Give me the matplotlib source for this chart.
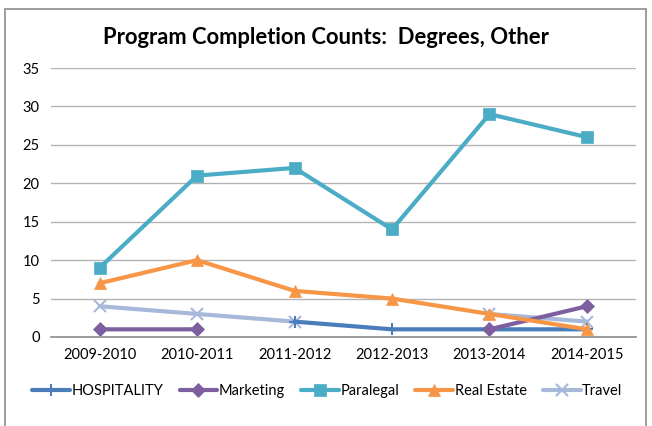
import matplotlib
matplotlib.use('Agg')
import matplotlib.pyplot as plt
from matplotlib.patches import Rectangle
import numpy as np

plt.rcParams['font.family'] = ['Lato', 'DejaVu Sans']

years = ['2009-2010', '2010-2011', '2011-2012', '2012-2013', '2013-2014', '2014-2015']
nan = np.nan

# 各系列数值（缺失用 nan）
hospitality = [nan, nan, 2, 1, 1, 1]
marketing = [1, 1, nan, nan, 1, 4]
paralegal = [9, 21, 22, 14, 29, 26]
real_estate = [7, 10, 6, 5, 3, 1]
travel = [4, 3, 2, nan, 3, 2]

series = [
    ('HOSPITALITY', hospitality, '#4A7EBB', '+', 9),
    ('Marketing', marketing, '#7D5FA0', 'D', 7),
    ('Paralegal', paralegal, '#4BACC6', 's', 8),
    ('Real Estate', real_estate, '#F79646', '^', 9),
    ('Travel', travel, '#A7B9DA', 'x', 8),
]

fig = plt.figure(figsize=(6.52, 4.26), dpi=100)
ax = fig.add_axes([0.078, 1 - 337 / 426, 0.897, 269 / 426])

x = np.arange(len(years))
# 先画 Travel 再画 Hospitality，保持与原图相近的遮挡顺序
order = [4, 0, 1, 2, 3]
handles = {}
for i in order:
    name, vals, col, mk, ms = series[i]
    h, = ax.plot(x, vals, color=col, linewidth=3, marker=mk, markersize=ms,
                 markeredgewidth=1.5 if mk in '+x' else 0.5, markeredgecolor=col,
                 label=name, solid_capstyle='round')
    handles[name] = h

ax.set_xlim(-0.5, len(years) - 0.5)
ax.set_ylim(0, 35)
ax.set_yticks(range(0, 36, 5))
ax.set_xticks(x)
ax.set_xticklabels(years)
ax.tick_params(axis='both', length=0, labelsize=10.5, pad=8)
ax.grid(axis='y', color='#B3B3B3', linewidth=1)
ax.set_axisbelow(True)
for s in ['top', 'right', 'left']:
    ax.spines[s].set_visible(False)
ax.spines['bottom'].set_color('#8C8C8C')
ax.spines['bottom'].set_linewidth(1.2)

fig.text(0.5, 1 - 38 / 426, 'Program Completion Counts:  Degrees, Other',
         fontsize=15.8, fontweight='bold', ha='center', va='center')

names = [s[0] for s in series]
fig.legend([handles[n] for n in names], names, loc='center',
           bbox_to_anchor=(0.502, 1 - 391 / 426), ncol=5, frameon=False,
           fontsize=10.5, handlelength=2.6, handletextpad=0.1,
           columnspacing=1.1)

fig.patches.append(Rectangle((5 / 652, -0.01), 641 / 652, 1 - 9 / 426 + 0.01,
                             transform=fig.transFigure, fill=False,
                             edgecolor='#8C8C8C', linewidth=1.2, clip_on=False))

plt.savefig('out.png', dpi=100)
